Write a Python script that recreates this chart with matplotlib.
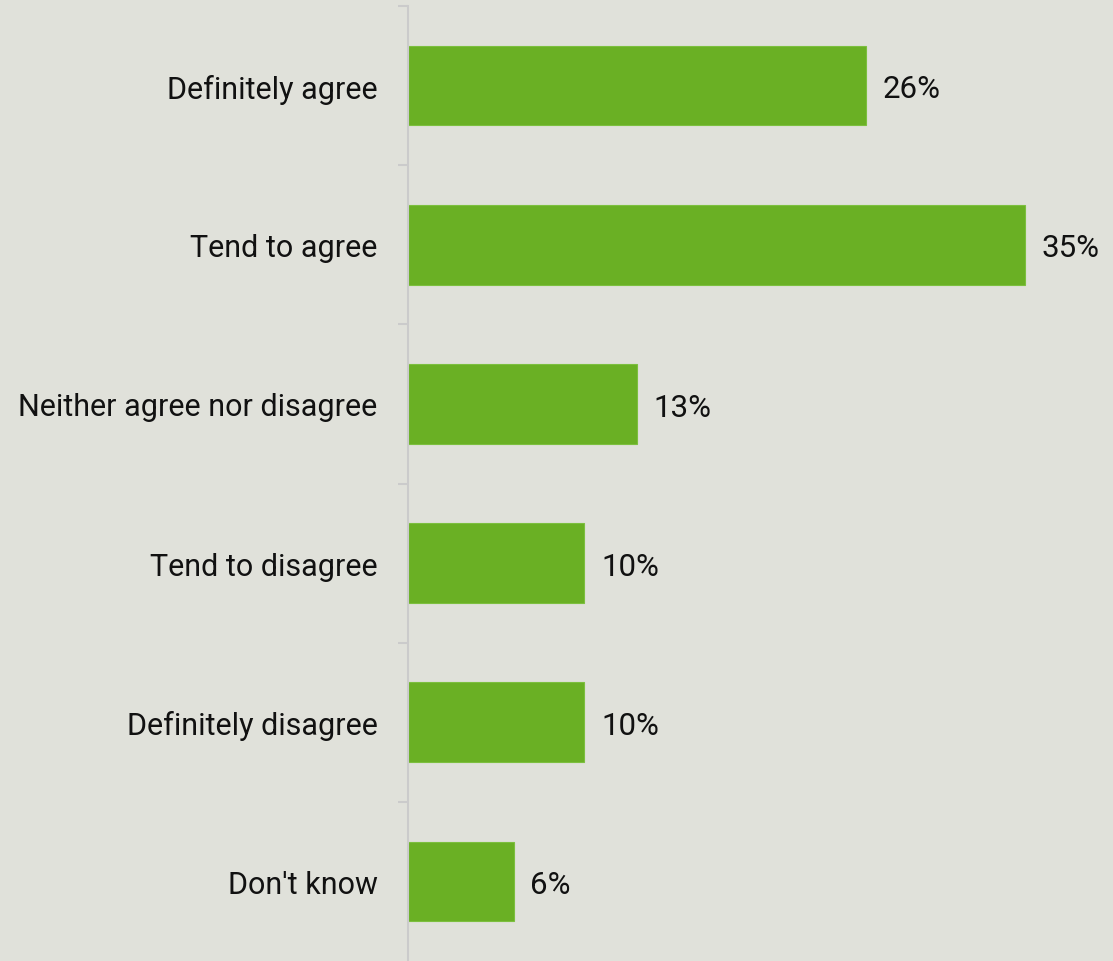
import matplotlib.pyplot as plt

categories = [
    "Definitely agree",
    "Tend to agree",
    "Neither agree nor disagree",
    "Tend to disagree",
    "Definitely disagree",
    "Don't know",
]
values = [26, 35, 13, 10, 10, 6]

bg = "#e0e1da"
bar_color = "#6ab024"

plt.rcParams["font.family"] = ["Roboto", "DejaVu Sans"]

fig = plt.figure(figsize=(11.13, 9.62), dpi=100, facecolor=bg)
ax = fig.add_axes([408 / 1113, 0, 1 - 408 / 1113, 1 - 7 / 962])
ax.set_facecolor(bg)

pos = list(range(len(categories)))
ax.barh(pos, values, height=0.5, color=bar_color, edgecolor="#7cbf3e", linewidth=0.8)

for p, v in zip(pos, values):
    ax.text(v + 0.95, p + 0.02, f"{v}%", va="center", ha="left", fontsize=22.5, color="#111111")

ax.set_xlim(0, 40)
ax.set_ylim(len(categories) - 0.5, -0.5)
ax.set_yticks(pos)
ax.set_yticklabels(categories, fontsize=22, color="#111111")
ax.set_yticks([i - 0.5 for i in range(len(categories))], minor=True)
ax.tick_params(axis="y", which="major", length=0, pad=22)
ax.tick_params(axis="y", which="minor", length=7, width=1.5, color="#cbcbcb")
ax.set_xticks([])

for side in ["top", "right", "bottom"]:
    ax.spines[side].set_visible(False)
ax.spines["left"].set_color("#cbcbcb")
ax.spines["left"].set_linewidth(1.5)

plt.savefig("out.png", dpi=100, facecolor=bg)
